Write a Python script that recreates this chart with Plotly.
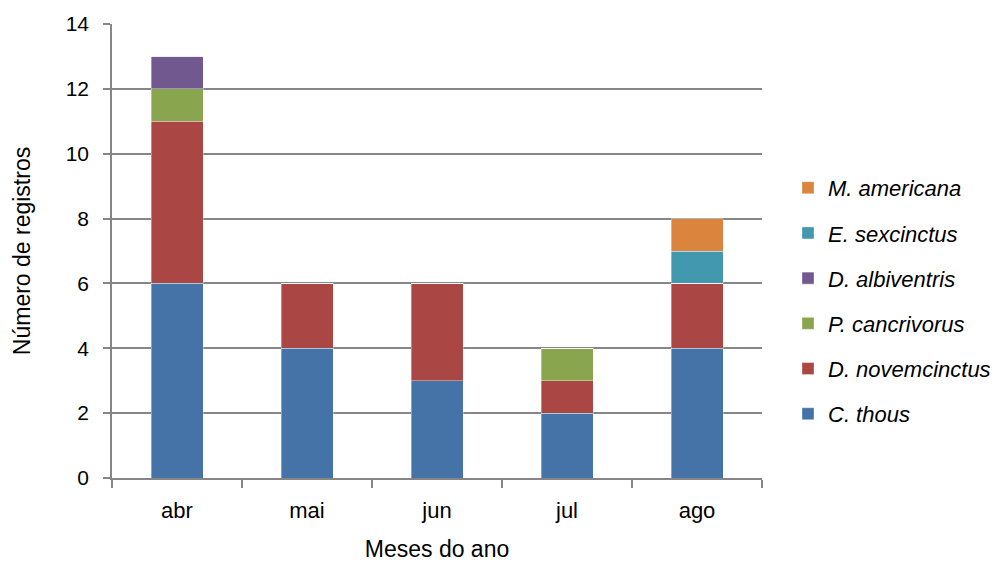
import plotly.graph_objects as go

months = ["abr", "mai", "jun", "jul", "ago"]

c_thous = [6, 4, 3, 2, 4]
d_novemcinctus = [5, 2, 3, 1, 2]
p_cancrivorus = [1, 0, 0, 1, 0]
d_albiventris = [1, 0, 0, 0, 0]
e_sexcinctus = [0, 0, 0, 0, 1]
m_americana = [0, 0, 0, 0, 1]

series = [
    ("C. thous", c_thous, "#4572A7"),
    ("D. novemcinctus", d_novemcinctus, "#AA4643"),
    ("P. cancrivorus", p_cancrivorus, "#89A54E"),
    ("D. albiventris", d_albiventris, "#71588F"),
    ("E. sexcinctus", e_sexcinctus, "#4198AF"),
    ("M. americana", m_americana, "#DB843D"),
]

FONT = "Liberation Sans"
AXIS_GREY = "#868686"

fig = go.Figure()
for i, (name, vals, color) in enumerate(series):
    fig.add_trace(go.Bar(
        x=months, y=vals, name=f"<i>{name}</i>",
        legendgroup=name,
        legendrank=100 - i,  # top of the stack listed first
        marker=dict(color=color, line=dict(color="rgba(255,255,255,0.45)", width=0.8)),
        width=0.4,
    ))

fig.update_layout(
    barmode="stack",
    width=995, height=562,
    margin=dict(l=112, r=233, t=24, b=84, autoexpand=False),
    paper_bgcolor="white", plot_bgcolor="white",
    font=dict(family=FONT, size=22, color="#000000"),
    showlegend=True,
    legend=dict(
        x=1.04, y=0.39, xanchor="left", yanchor="middle",
        font=dict(family=FONT, size=22),
        tracegroupgap=13.6,
        itemwidth=30,
    ),
    xaxis=dict(
        title=dict(text="Meses do ano", font=dict(size=23), standoff=22),
        showline=True, linecolor=AXIS_GREY, linewidth=1.5,
        ticks="outside", tickson="boundaries", ticklen=8, tickcolor=AXIS_GREY, tickwidth=1.5,
        ticklabelstandoff=12,
        showgrid=False,
        tickfont=dict(size=22),
        automargin=False,
    ),
    yaxis=dict(
        title=dict(text="Número de registros", font=dict(size=23), standoff=29),
        range=[0, 14], dtick=2, tick0=0,
        showline=True, linecolor=AXIS_GREY, linewidth=1.5,
        ticks="outside", ticklen=7, tickcolor=AXIS_GREY, tickwidth=1.5,
        ticklabelstandoff=10,
        showgrid=True, gridcolor=AXIS_GREY, gridwidth=1.5,
        zeroline=False,
        tickfont=dict(size=21),
        automargin=False,
    ),
)

fig.write_html("out.html")
